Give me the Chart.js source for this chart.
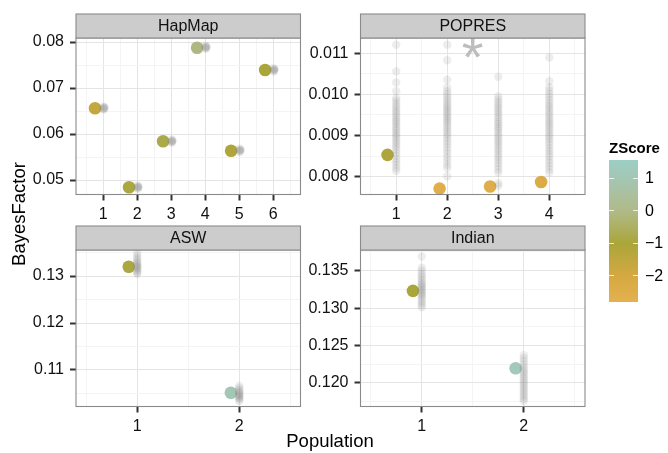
<!DOCTYPE html>
<html><head><meta charset="utf-8">
<script src="https://cdn.jsdelivr.net/npm/chart.js@4.4.1/dist/chart.umd.min.js"></script>
<style>
html,body{margin:0;padding:0;background:#fff;width:668px;height:453px;overflow:hidden;font-family:"Liberation Sans",Arial,Helvetica,sans-serif;}
.layer{position:absolute;left:0;top:0;width:668px;height:453px;}
.txt{position:absolute;color:#000;white-space:nowrap;}
</style></head><body>
<div class="layer"><canvas id="cHapMap"></canvas></div>
<div class="layer"><canvas id="cPOPRES"></canvas></div>
<div class="layer"><canvas id="cASW"></canvas></div>
<div class="layer"><canvas id="cIndian"></canvas></div>
<div class="txt" id="xTitle" style="left:230px;top:431px;width:200px;text-align:center;font-size:18.5px;line-height:20px;">Population</div>
<div class="txt" id="yTitle" style="left:-81.5px;top:204px;width:200px;height:20px;text-align:center;font-size:18.5px;line-height:20px;transform:rotate(-90deg);">BayesFactor</div>
<div id="legend"></div>
<script>
// ---------------- data ----------------
const panelNames = ['HapMap', 'POPRES', 'ASW', 'Indian'];
const xTitle = 'Population';
const yTitle = 'BayesFactor';
const legendTitle = 'ZScore';
const legendTicks = [1, 0, -1, -2];
// colour scale (ZScore -> colour)
const zScaleStops = [
  [-2.8, [228, 177, 78]],
  [-2.0, [213, 168, 66]],
  [-1.0, [170, 166, 58]],
  [0.0, [176, 186, 136]],
  [1.0, [164, 198, 180]],
  [1.56, [157, 206, 196]]
];

// HapMap
const hapmapCategories = [1, 2, 3, 4, 5, 6];
const hapmapYTicks = [0.05, 0.06, 0.07, 0.08];
const hapmapObsX = [0.76, 1.76, 2.76, 3.76, 4.76, 5.76];
const hapmapObsY = [0.06559, 0.04841, 0.05841, 0.07876, 0.05637, 0.07391];
const hapmapObsZ = [-1.6, -0.9, -0.8, -0.1, -1.1, -1.0];
const hapmapPermX = [1.01,1.04,1.02,1.03,1.00,1.02, 2.01,2.04,2.02,2.03,2.00,2.02, 3.01,3.04,3.02,3.03,3.00,3.02,
                     4.01,4.04,4.02,4.03,4.00,4.02, 5.01,5.04,5.02,5.03,5.00,5.02, 6.01,6.04,6.02,6.03,6.00,6.02];
const hapmapPermY = [0.0660,0.0658,0.0657,0.0656,0.0655,0.0653, 0.0488,0.0486,0.0485,0.0484,0.0483,0.0481,
                     0.0588,0.0586,0.0585,0.0584,0.0583,0.0581, 0.0792,0.0790,0.0789,0.0788,0.0787,0.0785,
                     0.0568,0.0566,0.0565,0.0564,0.0563,0.0561, 0.0743,0.0741,0.0740,0.0739,0.0738,0.0736];

// POPRES
const popresCategories = [1, 2, 3, 4];
const popresYTicks = [0.008, 0.009, 0.010, 0.011];
const popresObsX = [0.83, 1.85, 2.84, 3.84];
const popresObsY = [0.00853, 0.00771, 0.00776, 0.00787];
const popresObsZ = [-1.1, -2.6, -2.5, -2.3];
const popresPerm1 = [0.01121,0.01056,0.01029,0.01008,0.00991,0.00985,0.00978,0.00972,0.00966,0.00960,0.00955,0.00949,
  0.00944,0.00938,0.00933,0.00928,0.00922,0.00917,0.00912,0.00906,0.00901,0.00896,0.00890,0.00884,0.00878,0.00872,
  0.00866,0.00858,0.00851,0.00843,0.00836,0.00829,0.00821,0.00814];
const popresPerm2 = [0.01121,0.01083,0.01036,0.01017,0.01008,0.01001,0.00994,0.00988,0.00982,0.00976,0.00971,0.00966,
  0.00961,0.00956,0.00951,0.00946,0.00941,0.00936,0.00931,0.00925,0.00919,0.00913,0.00907,0.00901,0.00894,0.00887,
  0.00880,0.00872,0.00864,0.00856,0.00847,0.00838,0.00829,0.00821,0.00801];
const popresPerm3 = [0.01043,0.00995,0.00988,0.00981,0.00975,0.00969,0.00963,0.00957,0.00951,0.00945,0.00939,0.00933,
  0.00928,0.00922,0.00917,0.00911,0.00905,0.00899,0.00893,0.00887,0.00881,0.00875,0.00868,0.00862,0.00855,0.00848,
  0.00841,0.00834,0.00826,0.00818,0.00810,0.00784,0.00778];
const popresPerm4 = [0.01090,0.01032,0.01017,0.01009,0.01001,0.00994,0.00987,0.00980,0.00974,0.00968,0.00962,0.00956,
  0.00950,0.00944,0.00938,0.00932,0.00927,0.00921,0.00915,0.00909,0.00903,0.00897,0.00891,0.00884,0.00877,0.00870,
  0.00863,0.00856,0.00849,0.00841,0.00834,0.00826,0.00818,0.00810];
const popresNoteX = 2.5, popresNoteY = 0.01114, popresNoteText = '*';

// ASW
const aswCategories = [1, 2];
const aswYTicks = [0.11, 0.12, 0.13];
const aswObsX = [0.917, 1.918];
const aswObsY = [0.13198, 0.10517];
const aswObsZ = [-0.9, 1.0];
const aswPerm1 = [0.1349,0.1343,0.1338,0.1334,0.1330,0.1327,0.1324,0.1322,0.1320,0.1318,0.1316,0.1313,0.1310,0.1307,0.1304];
const aswPerm2 = [0.1066,0.1062,0.1058,0.1055,0.1052,0.1050,0.1048,0.1046,0.1044,0.1042,0.1040,0.1037,0.1034];

// Indian
const indianCategories = [1, 2];
const indianYTicks = [0.120, 0.125, 0.130, 0.135];
const indianObsX = [0.914, 1.92];
const indianObsY = [0.13231, 0.12197];
const indianObsZ = [-1.0, 1.2];
const indianPerm1 = [0.1369,0.1354,0.1350,0.1346,0.1343,0.1340,0.1337,0.1334,0.1332,0.1330,0.1328,0.1326,0.1324,
  0.1322,0.1320,0.1318,0.1316,0.1313,0.1310,0.1307,0.1304,0.1301];
const indianPerm2 = [0.1237,0.1233,0.1229,0.1225,0.1221,0.1218,0.1215,0.1212,0.1209,0.1206,0.1203,0.1200,0.1197,
  0.1194,0.1191,0.1188,0.1185,0.1182,0.1179,0.1176];

// ---------------- drawing ----------------
const FONT = '"Liberation Sans", Arial, Helvetica, sans-serif';
function zColor(z) {
  const s = zScaleStops;
  let c = z <= s[0][0] ? s[0][1] : s[s.length - 1][1];
  for (let i = 0; i < s.length - 1; i++) {
    if (z >= s[i][0] && z <= s[i + 1][0]) {
      const t = (z - s[i][0]) / (s[i + 1][0] - s[i][0]);
      c = s[i][1].map((v, k) => Math.round(v + (s[i + 1][1][k] - v) * t));
      break;
    }
  }
  return 'rgb(' + c.join(',') + ')';
}
function mkTicks(majors, min, max) {
  const step = majors.length > 1 ? majors[1] - majors[0] : 1;
  const out = majors.map(v => ({ value: v, minor: false }));
  const mids = [majors[0] - step / 2];
  for (let i = 0; i < majors.length - 1; i++) mids.push((majors[i] + majors[i + 1]) / 2);
  mids.push(majors[majors.length - 1] + step / 2);
  mids.forEach(v => { if (v > min && v < max) out.push({ value: v, minor: true }); });
  out.sort((a, b) => a.value - b.value);
  return out;
}
function pairs(xs, ys) { return ys.map((y, i) => ({ x: xs[i], y: y })); }
function cols(cats, arrs) {
  const out = [];
  arrs.forEach((arr, k) => arr.forEach(y => out.push({ x: cats[k], y: y })));
  return out;
}

const STRIP_H = 24;
const decor = {
  id: 'panelDecor',
  afterDraw(chart, args, o) {
    const a = chart.chartArea, ctx = chart.ctx;
    ctx.save();
    (o.notes || []).forEach(n => {
      const px = chart.scales.x.getPixelForValue(n.x), py = chart.scales.y.getPixelForValue(n.y);
      ctx.font = n.size + 'px ' + FONT;
      ctx.fillStyle = n.color; ctx.textAlign = 'center'; ctx.textBaseline = 'alphabetic';
      const m = ctx.measureText(n.text);
      ctx.fillText(n.text, px, py + (m.actualBoundingBoxAscent - m.actualBoundingBoxDescent) / 2);
    });
    ctx.lineWidth = 1.1;
    ctx.strokeStyle = '#8a8a8a';
    ctx.strokeRect(a.left, a.top, a.right - a.left, a.bottom - a.top);
    ctx.fillStyle = '#cccccc';
    ctx.fillRect(a.left, a.top - STRIP_H, a.right - a.left, STRIP_H);
    ctx.strokeRect(a.left, a.top - STRIP_H, a.right - a.left, STRIP_H);
    ctx.fillStyle = '#111';
    ctx.font = '16px ' + FONT;
    ctx.textAlign = 'center'; ctx.textBaseline = 'middle';
    ctx.fillText(o.title, (a.left + a.right) / 2, a.top - STRIP_H / 2 + 1);
    ctx.restore();
  }
};

const MAJOR = '#e4e4e4', MINOR = '#f4f4f4';
function axis(majors, min, max, dec, isX) {
  return {
    type: 'linear', min: min, max: max, position: isX ? 'bottom' : 'left',
    afterBuildTicks: s => { s.ticks = mkTicks(majors, min, max); },
    afterFit: s => { if (isX) s.height = 30; else s.width = 60; },
    ticks: {
      autoSkip: false, maxRotation: 0, padding: isX ? 4 : 6, color: '#111',
      font: { family: FONT, size: 16 },
      callback: (v, i, t) => (t[i] && t[i].minor) ? '' : Number(v).toFixed(dec)
    },
    grid: {
      drawTicks: true, tickLength: 6, lineWidth: 1,
      color: c => (c.tick && c.tick.minor) ? MINOR : MAJOR,
      tickColor: c => (c.tick && c.tick.minor) ? 'rgba(0,0,0,0)' : '#333',
      tickWidth: 2
    },
    border: { display: false }
  };
}

function panel(id, p) {
  const b = p.box;
  new Chart(document.getElementById(id), {
    type: 'scatter',
    data: { datasets: [
      { data: p.perm, pointRadius: 4.2, pointHoverRadius: 4.2, pointBackgroundColor: 'rgba(140,140,140,0.16)', pointBorderWidth: 0 },
      { data: p.obs, pointRadius: 6.3, pointHoverRadius: 6.3, pointBackgroundColor: p.obsZ.map(zColor), pointBorderWidth: 0 }
    ] },
    options: {
      responsive: true, maintainAspectRatio: false, animation: false, events: [],
      layout: { padding: { left: b.l - 60, right: 668 - b.r, top: b.t, bottom: 453 - b.b - 30 } },
      plugins: { legend: { display: false }, tooltip: { enabled: false }, panelDecor: { title: p.title, notes: p.notes || [] } },
      scales: { x: axis(p.xTicks, p.xMin, p.xMax, 0, true), y: axis(p.yTicks, p.yMin, p.yMax, p.dec, false) }
    },
    plugins: [decor]
  });
}

panel('cHapMap', {
  title: panelNames[0], box: { l: 76, r: 300.5, t: 38, b: 194.5 },
  xTicks: hapmapCategories, xMin: 0.2, xMax: 6.8, yTicks: hapmapYTicks, yMin: 0.04685, yMax: 0.08087, dec: 2,
  obs: pairs(hapmapObsX, hapmapObsY), obsZ: hapmapObsZ, perm: pairs(hapmapPermX, hapmapPermY)
});
panel('cPOPRES', {
  title: panelNames[1], box: { l: 360.5, r: 585, t: 38, b: 194.5 },
  xTicks: popresCategories, xMin: 0.3, xMax: 4.7, yTicks: popresYTicks, yMin: 0.007567, yMax: 0.011372, dec: 3,
  obs: pairs(popresObsX, popresObsY), obsZ: popresObsZ,
  perm: cols(popresCategories, [popresPerm1, popresPerm2, popresPerm3, popresPerm4]),
  notes: [{ x: popresNoteX, y: popresNoteY, text: popresNoteText, size: 56, color: '#bdbdbd' }]
});
panel('cASW', {
  title: panelNames[2], box: { l: 76, r: 300.5, t: 250, b: 406.5 },
  xTicks: aswCategories, xMin: 0.4, xMax: 2.6, yTicks: aswYTicks, yMin: 0.102234, yMax: 0.135532, dec: 2,
  obs: pairs(aswObsX, aswObsY), obsZ: aswObsZ, perm: cols(aswCategories, [aswPerm1, aswPerm2])
});
panel('cIndian', {
  title: panelNames[3], box: { l: 360.5, r: 585, t: 250, b: 406.5 },
  xTicks: indianCategories, xMin: 0.4, xMax: 2.6, yTicks: indianYTicks, yMin: 0.116861, yMax: 0.137765, dec: 3,
  obs: pairs(indianObsX, indianObsY), obsZ: indianObsZ, perm: cols(indianCategories, [indianPerm1, indianPerm2])
});

// legend (colour bar)
(function () {
  const lg = document.getElementById('legend');
  const zMin = zScaleStops[0][0], zMax = zScaleStops[zScaleStops.length - 1][0];
  const top = 160, h = 142, left = 609, w = 29;
  const yOf = z => top + (zMax - z) / (zMax - zMin) * h;
  const stops = zScaleStops.map(s => zColor(s[0]) + ' ' + ((s[0] - zMin) / (zMax - zMin) * 100).toFixed(2) + '%').join(',');
  let html = '<div class="txt" style="left:609px;top:140px;font-size:15px;font-weight:bold;line-height:16px;">' + legendTitle + '</div>';
  html += '<div style="position:absolute;left:' + left + 'px;top:' + top + 'px;width:' + w + 'px;height:' + h + 'px;background:linear-gradient(to top,' + stops + ');"></div>';
  legendTicks.forEach(z => {
    const y = yOf(z);
    html += '<div style="position:absolute;left:' + left + 'px;top:' + (y - 0.5) + 'px;width:5px;height:1px;background:#fff;opacity:0.8"></div>';
    html += '<div style="position:absolute;left:' + (left + w - 5) + 'px;top:' + (y - 0.5) + 'px;width:5px;height:1px;background:#fff;opacity:0.8"></div>';
    html += '<div class="txt" style="left:645px;top:' + (y - 9) + 'px;font-size:16px;line-height:18px;">' + (z < 0 ? '\u2212' + Math.abs(z) : String(z)) + '</div>';
  });
  lg.innerHTML = html;
})();
</script>
</body></html>
